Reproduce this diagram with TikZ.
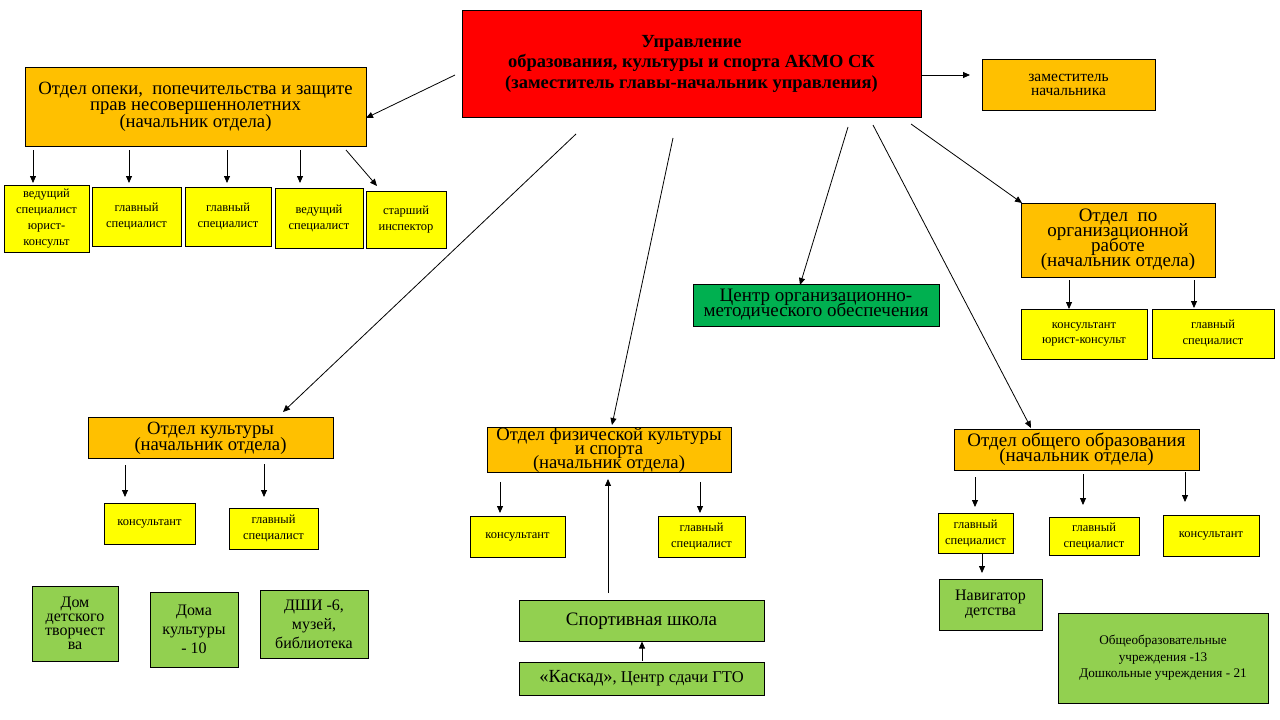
\documentclass[tikz,border=0pt]{standalone}
\usepackage{fontspec}
\setmainfont{Liberation Serif}
\usetikzlibrary{calc,arrows.meta}
\definecolor{orangeC}{HTML}{FFC000}
\definecolor{yellowC}{HTML}{FFFF00}
\definecolor{redC}{HTML}{FF0000}
\definecolor{greenL}{HTML}{92D050}
\definecolor{greenD}{HTML}{00B050}
\newcommand\fsz[2]{\fontsize{#1}{#2}\selectfont\lineskiplimit=-50pt\relax}
\begin{document}
\begin{tikzpicture}[x=1pt,y=-1pt,
  box/.style={draw=black, line width=0.9pt, inner sep=0pt, outer sep=0pt, align=center},
  orgbox/.style={box, fill=orangeC},
  ylwbox/.style={box, fill=yellowC, font=\fsz{12.5}{16}},
  grnbox/.style={box, fill=greenL},
  arr/.style={-{Triangle[length=7pt,width=6pt]}, line width=0.8pt}]
\useasboundingbox (0,0) rectangle (1280,720);
\fill[white] (0,0) rectangle (1280,720);

% top
\node[box, fill=redC, minimum width=459pt, minimum height=107pt, font=\fsz{18.5}{20.5}\bfseries] (top) at (691.5,63.5)
  {Управление\\образования, культуры и спорта АКМО СК\\(заместитель главы-начальник управления)};

% opeka
\node[orgbox, minimum width=341pt, minimum height=79pt, font=\fsz{18.7}{16.5}] (opeka) at (195.5,106.5)
  {Отдел опеки,\ \ попечительства и защите\\прав несовершеннолетних\\(начальник отдела)};
\node[ylwbox, minimum width=85pt, minimum height=67pt] (o1) at (46.5,218.5) {ведущий\\специалист\\юрист-\\консульт};
\node[ylwbox, minimum width=89pt, minimum height=59pt] (o2) at (136.5,216.5) {главный\\специалист};
\node[ylwbox, minimum width=86pt, minimum height=59pt] (o3) at (228,216.5) {главный\\специалист};
\node[ylwbox, minimum width=88pt, minimum height=60pt] (o4) at (319,218) {ведущий\\специалист};
\node[ylwbox, minimum width=80pt, minimum height=57pt] (o5) at (406,219.5) {старший\\инспектор};

% zam
\node[orgbox, minimum width=173pt, minimum height=51pt, font=\fsz{15.5}{14}] (zam) at (1068.5,84.5) {заместитель\\начальника};

% org work
\node[orgbox, minimum width=194pt, minimum height=74pt, font=\fsz{19}{15}] (orgw) at (1118,240)
  {Отдел\ \ по\\организационной\\работе\\(начальник отдела)};
\node[ylwbox, minimum width=126pt, minimum height=50pt, font=\fsz{12.5}{15}] (w1) at (1084,334) {консультант\\юрист-консульт};
\node[ylwbox, minimum width=122pt, minimum height=49pt] (w2) at (1213,333.5) {главный\\специалист};

% center
\node[box, fill=greenD, minimum width=246pt, minimum height=42pt, font=\fsz{19}{15}] (cmo) at (816,305)
  {Центр организационно-\\методического обеспечения};

% culture
\node[orgbox, minimum width=245pt, minimum height=41pt, font=\fsz{18.7}{16}] (kult) at (210.5,438) {Отдел культуры\\(начальник отдела)};
\node[ylwbox, minimum width=91pt, minimum height=41pt] (k1) at (149.5,523.5) {консультант};
\node[ylwbox, minimum width=89pt, minimum height=41pt] (k2) at (273.5,528.5) {главный\\специалист};
\node[grnbox, minimum width=86pt, minimum height=75pt, font=\fsz{16}{14}] (g1) at (75,623.5) {Дом\\детского\\творчест\\ва};
\node[grnbox, minimum width=88pt, minimum height=75pt, font=\fsz{16}{19}] (g2) at (194,629.5) {Дома\\культуры\\- 10};
\node[grnbox, minimum width=108pt, minimum height=68pt, font=\fsz{16}{19}] (g3) at (314,624) {ДШИ -6,\\музей,\\библиотека};

% sport
\node[orgbox, minimum width=244pt, minimum height=41pt, font=\fsz{18.7}{14}] (fiz) at (609,449.5) {Отдел физической культуры\\и спорта\\(начальник отдела)};
\node[ylwbox, minimum width=95pt, minimum height=41pt] (f1) at (517.5,536.5) {консультант};
\node[ylwbox, minimum width=87pt, minimum height=41pt] (f2) at (701.5,536.5) {главный\\специалист};
\node[grnbox, minimum width=245pt, minimum height=41pt, font=\fsz{19}{16}] (ss) at (641.5,621) {Спортивная школа};
\node[grnbox, minimum width=245pt, minimum height=33pt, font=\fsz{16.5}{15}] (kas) at (641.5,678.5) {{\fsz{18.5}{15}«Каскад»}, Центр сдачи ГТО};

% general education
\node[orgbox, minimum width=245pt, minimum height=41pt, font=\fsz{19}{15}] (obsh) at (1076.5,449.5) {Отдел общего образования\\(начальник отдела)};
\node[ylwbox, minimum width=75pt, minimum height=40pt] (e1) at (975.5,533) {главный\\специалист};
\node[ylwbox, minimum width=90pt, minimum height=38pt] (e2) at (1094,536) {главный\\специалист};
\node[ylwbox, minimum width=96pt, minimum height=41pt] (e3) at (1211,535.5) {консультант};
\node[grnbox, minimum width=103pt, minimum height=51pt, font=\fsz{16}{14.5}] (nav) at (990.5,604.5) {Навигатор\\детства};
\node[grnbox, minimum width=210pt, minimum height=90pt, font=\fsz{13.2}{16.5}] (ou) at (1163,658) {Общеобразовательные\\учреждения -13\\Дошкольные учреждения - 21};

% arrows from top
\draw[arr] ($(top.west)+(-7,11.5)$) -- ($(opeka.east)+(0,11.5)$);
\draw[arr] ($(top.east)+(0,11.5)$) -- ($(zam.west)+(-12,-9.5)$);
\draw[arr] ($(top.south east)+(-10,7)$) -- ($(orgw.north west)+(1,0)$);
\draw[arr] ($(top.south)+(156.5,10)$) -- ($(cmo.north)+(-16,1)$);
\draw[arr] ($(top.south)+(181.5,8)$) -- ($(obsh.north)+(-45.5,-1)$);
\draw[arr] ($(top.south)+(-18.5,21)$) -- ($(fiz.north)+(3,-2)$);
\draw[arr] ($(top.south)+(-115.5,17)$) -- ($(kult.north)+(72.5,-5.5)$);

% opeka subordinates
\draw[arr] ($(opeka.south west)+(8,4)$) -- ($(o1.north west)+(29,-2)$);
\draw[arr] ($(opeka.south west)+(104,4)$) -- ($(o2.north west)+(37,-4)$);
\draw[arr] ($(opeka.south west)+(202,4)$) -- ($(o3.north west)+(42,-4)$);
\draw[arr] ($(opeka.south west)+(275,4)$) -- ($(o4.north west)+(25,-5)$);
\draw[arr] ($(opeka.south east)+(-20,4)$) -- ($(o5.north west)+(11,-5)$);

% org work subordinates
\draw[arr] ($(orgw.south west)+(48,3)$) -- ($(w1.north west)+(48,0)$);
\draw[arr] ($(orgw.south west)+(173,3)$) -- ($(w2.north west)+(42,-1)$);

% culture
\draw[arr] ($(kult.south west)+(37,6.5)$) -- ($(k1.north west)+(21,-6)$);
\draw[arr] ($(kult.south west)+(176,5.5)$) -- ($(k2.north west)+(35,-11)$);

% sport
\draw[arr] ($(fiz.south west)+(13,10)$) -- ($(f1.north west)+(30,-3)$);
\draw[arr] ($(fiz.south west)+(213,10)$) -- ($(f2.north west)+(42,-3)$);
\draw[arr] ($(ss.north)+(-33.5,-7.5)$) -- ($(fiz.south)+(-1,7)$);
\draw[arr] ($(kas.north)+(0.5,-1)$) -- ($(ss.south)+(0.5,0)$);

% general education
\draw[arr] ($(obsh.south west)+(21,7)$) -- ($(e1.north west)+(37,-6)$);
\draw[arr] ($(obsh.south west)+(129,4)$) -- ($(e2.north west)+(34,-12)$);
\draw[arr] ($(obsh.south west)+(231,2)$) -- ($(e3.north west)+(22,-13)$);
\draw[arr] ($(e1.south west)+(44,0)$) -- ($(nav.north west)+(43,-6)$);
\end{tikzpicture}
\end{document}
